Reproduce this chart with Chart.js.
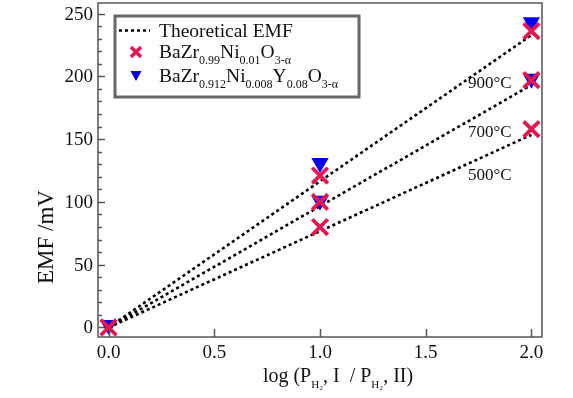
<!DOCTYPE html>
<html><head><meta charset="utf-8">
<script src="https://cdn.jsdelivr.net/npm/chart.js@4.4.0/dist/chart.umd.min.js"></script>
<style>html,body{margin:0;padding:0;background:#fff;}#wrap{width:573px;height:398px;position:relative;}</style>
</head><body><div id="wrap"><canvas id="c" width="573" height="398"></canvas></div>
<script>
const xTicks = [0, 0.5, 1.0, 1.5, 2.0];
const xTickLabels = ['0.0', '0.5', '1.0', '1.5', '2.0'];
const yTicks = [0, 50, 100, 150, 200, 250];
const yTickLabels = ['0', '50', '100', '150', '200', '250'];
const yMinorTicks = [10, 20, 30, 40, 60, 70, 80, 90, 110, 120, 130, 140, 160, 170, 180, 190, 210, 220, 230, 240];
const theoryX = [0, 1, 2];
const theory900 = [0, 116.4, 232.8];
const theory700 = [0, 96.6, 193.1];
const theory500 = [0, 76.7, 153.4];
const niX = [0, 1, 1, 1, 2, 2, 2];
const niY = [0, 80, 100, 121, 158, 197, 236];
const nyX = [0, 1, 1, 2, 2];
const nyY = [2, 101, 131, 198, 243];
const tempLabels = ['900°C', '700°C', '500°C'];
const tempLabelX = [1.70, 1.70, 1.70];
const tempLabelY = [194, 155, 121];

const FONT = '"Liberation Serif","Times New Roman",serif';
const RED = 'rgb(232,22,80)';
const BLUE = 'rgb(0,0,235)';

const pts = (xs, ys) => xs.map((x, i) => ({x: x, y: ys[i]}));
const lineDs = (ys) => ({type: 'line', data: pts(theoryX, ys), borderColor: '#000', borderWidth: 2.6,
  borderDash: [3, 3], pointRadius: 0, fill: false, order: 3, tension: 0});

function rich(ctx, parts, x, y, size, subSize) {
  ctx.textBaseline = 'alphabetic';
  ctx.textAlign = 'left';
  for (const p of parts) {
    const sub = p[1];
    ctx.font = (sub ? subSize : size) + 'px ' + FONT;
    ctx.fillText(p[0], x, sub ? y + 6 : y);
    x += ctx.measureText(p[0]).width;
  }
  return x;
}
function measureRich(ctx, parts, size, subSize) {
  let w = 0;
  for (const p of parts) { ctx.font = (p[1] ? subSize : size) + 'px ' + FONT; w += ctx.measureText(p[0]).width; }
  return w;
}

const deco = {
  id: 'deco',
  afterDraw(chart) {
    const ctx = chart.ctx, a = chart.chartArea, xs = chart.scales.x, ys = chart.scales.y;
    ctx.save();
    ctx.strokeStyle = '#555'; ctx.lineWidth = 1.5;
    ctx.strokeRect(a.left, a.top, a.right - a.left, a.bottom - a.top);
    ctx.beginPath();
    for (const v of yTicks) { const py = Math.round(ys.getPixelForValue(v)) + 0.5; ctx.moveTo(a.left, py); ctx.lineTo(a.left + 7, py); }
    for (const v of yMinorTicks) { const py = Math.round(ys.getPixelForValue(v)) + 0.5; ctx.moveTo(a.left, py); ctx.lineTo(a.left + 4, py); }
    for (const v of xTicks) { const px = Math.round(xs.getPixelForValue(v)) + 0.5; ctx.moveTo(px, a.bottom); ctx.lineTo(px, a.bottom - 8); }
    ctx.stroke();

    ctx.fillStyle = '#111';
    // tick labels
    ctx.font = '19px ' + FONT;
    ctx.textAlign = 'right'; ctx.textBaseline = 'middle';
    yTicks.forEach((v, i) => ctx.fillText(yTickLabels[i], a.left - 5, ys.getPixelForValue(v) + 1));
    ctx.textAlign = 'center';
    xTicks.forEach((v, i) => ctx.fillText(xTickLabels[i], xs.getPixelForValue(v), a.bottom + 16));

    // temperature labels
    ctx.font = '17px ' + FONT; ctx.textAlign = 'left'; ctx.textBaseline = 'middle';
    tempLabels.forEach((t, i) => ctx.fillText(t, xs.getPixelForValue(tempLabelX[i]), ys.getPixelForValue(tempLabelY[i])));

    // y title
    ctx.save();
    ctx.translate(47, 237);
    ctx.rotate(-Math.PI / 2);
    ctx.font = '23px ' + FONT; ctx.textAlign = 'center'; ctx.textBaseline = 'middle';
    ctx.fillText('EMF /mV', 0, 0);
    ctx.restore();

    // x title
    const xt = [['log (P', 0], ['H₂', 1], [', I  / P', 0], ['H₂', 1], [', II)', 0]];
    const xtw = measureRich(ctx, xt, 20, 11);
    rich(ctx, xt, 338 - xtw / 2, 382, 20, 11);

    // legend
    ctx.fillStyle = '#fff';
    ctx.fillRect(113, 14, 247, 84);
    ctx.strokeStyle = '#666'; ctx.lineWidth = 3;
    ctx.strokeRect(115, 16, 244, 81);
    ctx.fillStyle = '#111';
    ctx.strokeStyle = '#000'; ctx.lineWidth = 2.6; ctx.setLineDash([3, 3]);
    ctx.beginPath(); ctx.moveTo(119, 30.5); ctx.lineTo(150, 30.5); ctx.stroke();
    ctx.setLineDash([]);
    rich(ctx, [['Theoretical EMF', 0]], 159, 37, 19.5, 12);
    // red x marker
    ctx.strokeStyle = RED; ctx.lineWidth = 3.5;
    ctx.beginPath(); ctx.moveTo(131, 47); ctx.lineTo(141, 57); ctx.moveTo(141, 47); ctx.lineTo(131, 57); ctx.stroke();
    rich(ctx, [['BaZr', 0], ['0.99', 1], ['Ni', 0], ['0.01', 1], ['O', 0], ['3-α', 1]], 159, 58, 19.5, 12);
    // blue triangle marker
    ctx.fillStyle = BLUE;
    ctx.beginPath(); ctx.moveTo(130.5, 71); ctx.lineTo(141.5, 71); ctx.lineTo(136, 81); ctx.closePath(); ctx.fill();
    ctx.fillStyle = '#111';
    rich(ctx, [['BaZr', 0], ['0.912', 1], ['Ni', 0], ['0.008', 1], ['Y', 0], ['0.08', 1], ['O', 0], ['3-α', 1]], 159, 82, 19.5, 12);
    ctx.restore();
  }
};

new Chart(document.getElementById('c'), {
  type: 'scatter',
  data: {
    datasets: [
      {label: 'BaZr0.99Ni0.01O3-α', data: pts(niX, niY), pointStyle: 'crossRot', pointRadius: 11,
        borderColor: RED, backgroundColor: RED, pointBorderWidth: 3.8, order: 1, clip: false},
      {label: 'BaZr0.912Ni0.008Y0.08O3-α', data: pts(nyX, nyY), pointStyle: 'triangle', pointRotation: 180,
        pointRadius: 10, borderColor: BLUE, backgroundColor: BLUE, pointBorderWidth: 0, order: 2, clip: false},
      Object.assign(lineDs(theory900), {label: 'Theoretical EMF 900'}),
      Object.assign(lineDs(theory700), {label: 'Theoretical EMF 700'}),
      Object.assign(lineDs(theory500), {label: 'Theoretical EMF 500'})
    ]
  },
  options: {
    responsive: false, animation: false, devicePixelRatio: 1,
    layout: {autoPadding: false, padding: {left: 0, right: 31, top: 3, bottom: 0}},
    plugins: {legend: {display: false}, tooltip: {enabled: false}},
    scales: {
      x: {type: 'linear', min: -0.05, max: 2.05,
        afterBuildTicks: s => { s.ticks = xTicks.map(v => ({value: v})); },
        afterFit: s => { s.height = 61; },
        grid: {display: false}, border: {display: false},
        ticks: {display: false}},
      y: {type: 'linear', min: -7.6, max: 258.4,
        afterBuildTicks: s => { s.ticks = yTicks.map(v => ({value: v})); },
        afterFit: s => { s.width = 98; },
        grid: {display: false}, border: {display: false},
        ticks: {display: false}}
    }
  },
  plugins: [deco]
});
</script></body></html>
